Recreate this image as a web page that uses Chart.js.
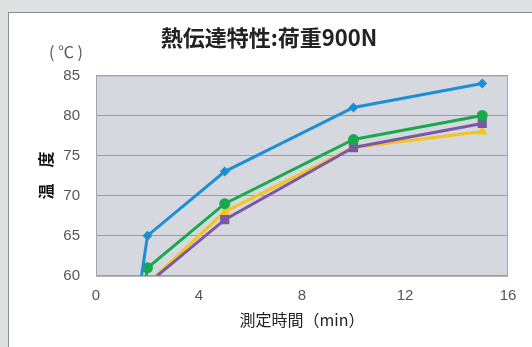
<!DOCTYPE html>
<html>
<head>
<meta charset="utf-8">
<script src="https://cdn.jsdelivr.net/npm/chart.js@4"></script>
<style>
  body { margin: 0; background: #dfe0e2; }
  #panel { position: absolute; left: 8px; top: 12px; width: 540px; height: 360px; background: #fff; border: 1px solid #8c8c8c; }
  #wrap { position: absolute; left: 0; top: 0; width: 532px; height: 347px; }
</style>
</head>
<body>
<div id="panel"></div>
<div id="wrap"><canvas id="chart"></canvas></div>
<script>
// 測定時間 (min)
const times = [0, 2, 5, 10, 15];
// 温度 (℃) per series
const seriesBlue = [22, 65, 73, 81, 84];
const seriesGreen = [22, 61, 69, 77, 80];
const seriesPurple = [22, 59, 67, 76, 79];
const seriesYellow = [22, 59, 68, 76, 78];

const xTicks = [0, 4, 8, 12, 16];
const yTicks = [60, 65, 70, 75, 80, 85];

const jp = "'Noto Sans CJK JP', sans-serif";

const toPoints = (vals) => vals.map((v, i) => ({ x: times[i], y: v }));

const makeSet = (vals, color, style, radius) => ({
  data: toPoints(vals),
  borderColor: color,
  backgroundColor: color,
  borderWidth: 3,
  pointStyle: style,
  pointRadius: radius,
  pointHoverRadius: radius,
  pointBorderWidth: 0,
  tension: 0,
  clip: 0,
});

// gray plot background + unit label
const plotBg = {
  id: "plotBg",
  beforeDraw(chart) {
    const { ctx, chartArea: a } = chart;
    ctx.save();
    ctx.fillStyle = "#d5d9df";
    ctx.fillRect(a.left, a.top, a.right - a.left, a.bottom - a.top);
    ctx.restore();
  },
  afterDraw(chart) {
    const { ctx, chartArea: a } = chart;
    ctx.save();
    ctx.strokeStyle = "#a4a6a8";
    ctx.lineWidth = 1;
    ctx.strokeRect(a.left + 0.5, a.top + 0.5, a.right - a.left - 1, a.bottom - a.top);
    ctx.fillStyle = "#555";
    ctx.font = "16px " + jp;
    ctx.textAlign = "center";
    ctx.textBaseline = "middle";
    ctx.fillText("( ℃ )", 66, 52);
    ctx.restore();
  },
};

new Chart(document.getElementById("chart"), {
  type: "line",
  data: {
    datasets: [
      makeSet(seriesBlue, "#1c8fd4", "rectRot", 5),
      makeSet(seriesGreen, "#19a84b", "circle", 5.5),
      makeSet(seriesPurple, "#7a58a5", "rect", 6.5),
      makeSet(seriesYellow, "#f6c21c", "triangle", 6),
    ],
  },
  options: {
    responsive: true,
    maintainAspectRatio: false,
    animation: false,
    layout: { padding: { left: 8, right: 2, bottom: 17 } },
    plugins: {
      legend: { display: false },
      tooltip: { enabled: false },
      title: {
        display: true,
        text: "熱伝達特性:荷重900N",
        color: "#222",
        font: { family: jp, size: 22, weight: "bold" },
        padding: { top: 24, bottom: 25 },
      },
    },
    scales: {
      x: {
        type: "linear",
        min: 0,
        max: 16,
        afterBuildTicks: (s) => { s.ticks = xTicks.map((v) => ({ value: v })); },
        afterFit: (s) => { s.height = s.height - 9; },
        grid: { display: false, drawTicks: false },
        border: { display: false },
        ticks: { color: "#555", padding: 11, font: { family: "'Liberation Sans', sans-serif", size: 15 } },
        title: {
          display: true,
          text: "測定時間（min）",
          color: "#222",
          font: { family: jp, size: 16 },
          padding: { top: 4, bottom: 0 },
        },
      },
      y: {
        min: 60,
        max: 85,
        afterBuildTicks: (s) => { s.ticks = yTicks.map((v) => ({ value: v })); },
        afterFit: (s) => { s.width = 88; },
        grid: { color: "#9b9da0", lineWidth: 1, drawTicks: false },
        border: { display: false },
        ticks: { color: "#555", padding: 16, font: { family: "'Liberation Sans', sans-serif", size: 15 } },
        title: {
          display: true,
          text: "温　度",
          color: "#111",
          font: { family: jp, size: 16, weight: "bold" },
          padding: { top: 28, bottom: 0 },
        },
      },
      // empty right axis, keeps the plot 24px off the right edge
      yRight: {
        position: "right",
        display: true,
        afterFit: (s) => { s.width = 22; },
        grid: { display: false, drawTicks: false },
        border: { display: false },
        ticks: { display: false },
      },
    },
  },
  plugins: [plotBg],
});
</script>
</body>
</html>
